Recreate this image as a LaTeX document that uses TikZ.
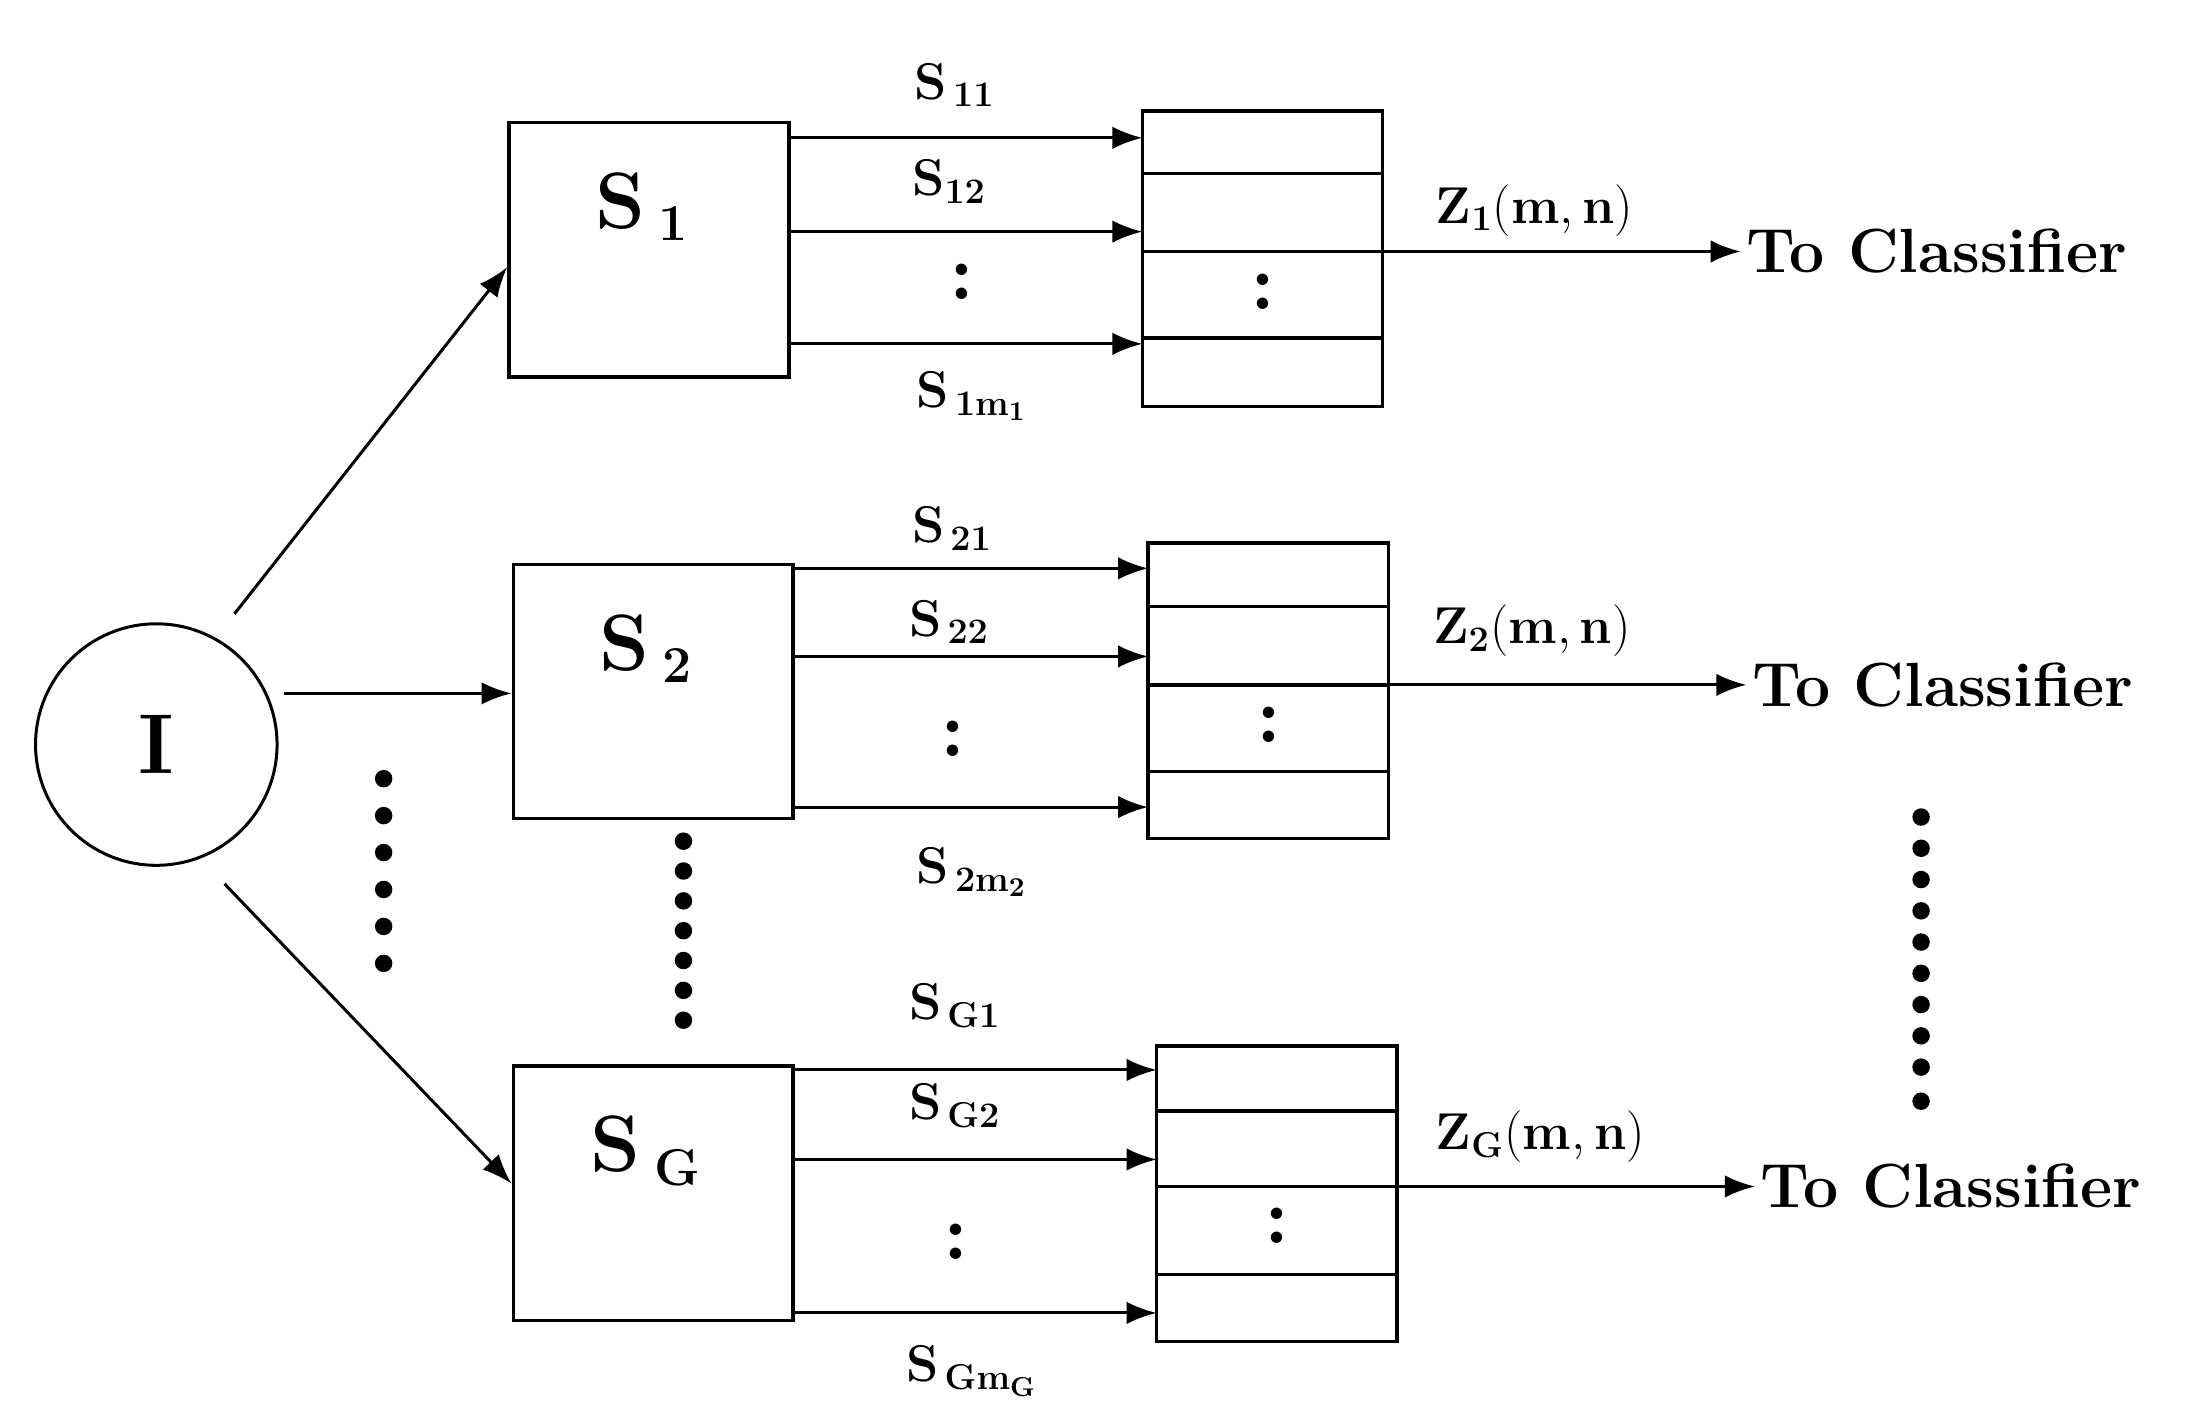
\documentclass[tikz,border=0pt]{standalone}
\usepackage{amsmath}
\usetikzlibrary{arrows.meta,calc}
\begin{document}
\begin{tikzpicture}[x=0.02cm,y=-0.02cm, thick,
  arr/.style={-{Latex[length=12pt,width=9pt]}, line width=1.2pt},
  blk/.style={draw, line width=1.4pt, minimum width=3.94cm, minimum height=3.58cm, inner sep=0pt},
  lab/.style={font=\fontsize{22}{26}\selectfont\bfseries, inner sep=1pt},
  big/.style={font=\fontsize{32}{36}\selectfont\bfseries},
  cls/.style={font=\fontsize{25}{30}\selectfont\bfseries, anchor=west, inner sep=2pt},
  cdot/.style={font=\fontsize{32}{36}\selectfont\bfseries},
  vd/.style={fill, circle, minimum size=7pt, inner sep=0pt}]
\useasboundingbox (0,0) rectangle (1549,999);

\node[draw, circle, line width=1.2pt, minimum size=3.4cm] (I) at (110,524) {};
\node[font=\fontsize{34}{40}\selectfont\bfseries] at (I) {I};

% group: name, box left, box top, stack left, stack top, line offsets, arrow offsets
\foreach \g/\bx/\by/\sx/\sy/\la/\lb/\lc/\aa/\ab/\ac/\sub in
  {1/357/85/804/78/44/99/160/12/78/157/1,
   2/360/396/808/382/45/100/161/4/66/172/2,
   3/360/749/814/736/46/99/161/4/67/175/G}{
  \node[blk, anchor=north west] (box\g) at (\bx,\by) {};
  \node[big] at ($(box\g.center)+(-5,-30)$) {S\,$_{\mathbf{\sub}}$};
  \draw[line width=1.4pt] (\sx,\sy) rectangle ++(169,208);
  \draw[line width=1.4pt] (\sx,\sy+\la) -- ++(169,0);
  \draw[line width=1.4pt] (\sx,\sy+\lb) -- ++(169,0);
  \draw[line width=1.4pt] (\sx,\sy+\lc) -- ++(169,0);
  \node[cdot] at (\sx+85,\sy+\lb+28) {:};
  \draw[arr] (\bx+197,\by+\aa) -- (\sx,\by+\aa);
  \draw[arr] (\bx+197,\by+\ab) -- (\sx,\by+\ab);
  \draw[arr] (\bx+197,\by+\ac) -- (\sx,\by+\ac);
  \coordinate (out\g) at (\sx+169,\sy+\lb);
  \node[cls] (tc\g) at (\sx+421,\sy+\lb) {To Classifier};
  \draw[arr] (out\g) -- (tc\g.west);
}

% branch labels
\node[lab] at (672,60) {$\mathbf{S}_{\,\mathbf{11}}$};
\node[lab] at (668,128) {$\mathbf{S}_{\mathbf{12}}$};
\node[cdot] at (677,198) {:};
\node[lab] at (684,279) {$\mathbf{S}_{\,\mathbf{1m_1}}$};
\node[lab] at (670,372) {$\mathbf{S}_{\,\mathbf{21}}$};
\node[lab] at (668,438) {$\mathbf{S}_{\,\mathbf{22}}$};
\node[cdot] at (671,520) {:};
\node[lab] at (684,614) {$\mathbf{S}_{\,\mathbf{2m_2}}$};
\node[lab] at (672,708) {$\mathbf{S}_{\,\mathbf{G1}}$};
\node[lab] at (672,778) {$\mathbf{S}_{\,\mathbf{G2}}$};
\node[cdot] at (673,874) {:};
\node[lab] at (684,965) {$\mathbf{S}_{\,\mathbf{Gm_G}}$};

\node[lab] at (1080,148) {$\mathbf{Z_1(m,n)}$};
\node[lab] at (1078,444) {$\mathbf{Z_2(m,n)}$};
\node[lab] at (1084,800) {$\mathbf{Z_G(m,n)}$};

% input arrows
\draw[arr] (165,432) -- (box1.west |- 0,188);
\draw[arr] (200,488) -- (box2.west |- 0,488);
\draw[arr] (158,622) -- (box3.west |- 0,833);

% vertical dots
\foreach \y in {548,574,600,626,652,678} \node[vd] at (270,\y) {};
\foreach \y in {592,613,634,655,676,697,718} \node[vd] at (481,\y) {};
\foreach \y in {575,597,619,641,663,685,707,729,751,775} \node[vd] at (1352,\y) {};
\end{tikzpicture}
\end{document}
